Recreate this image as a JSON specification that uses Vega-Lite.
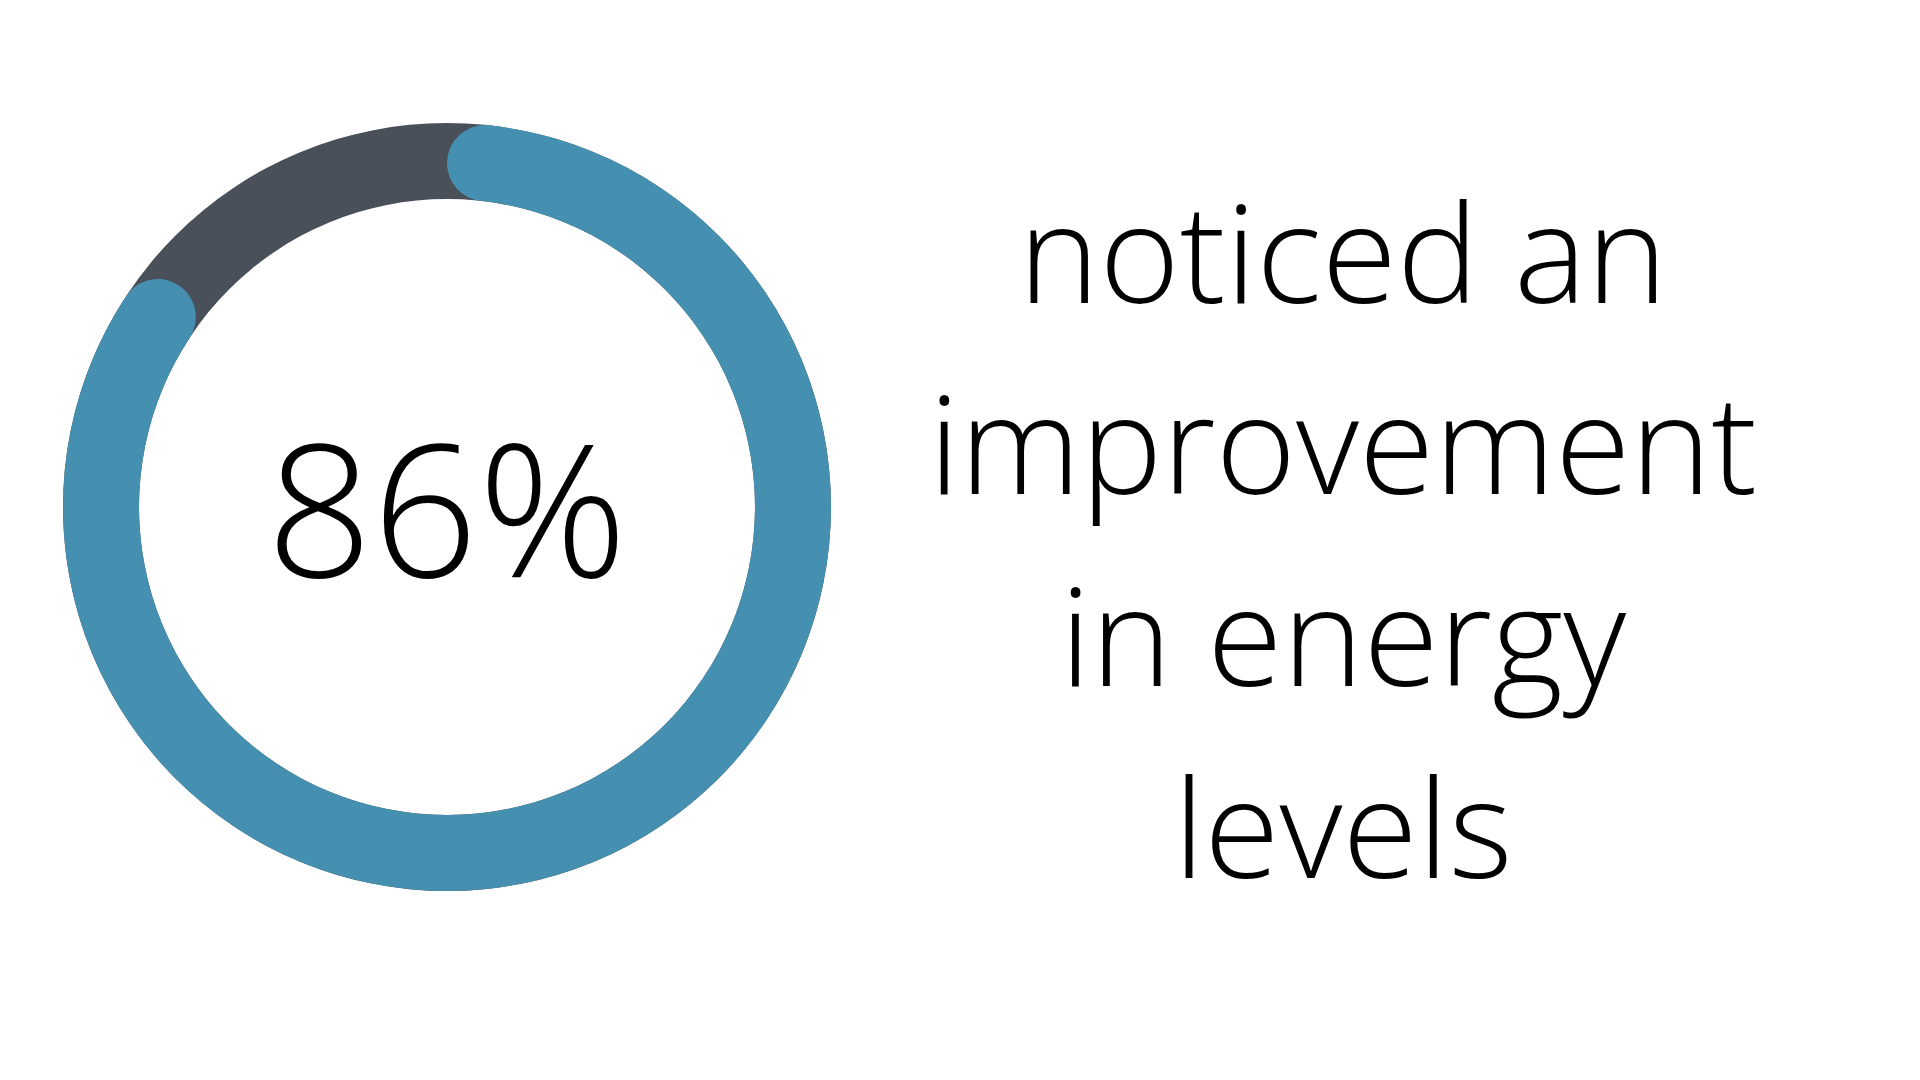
{
  "$schema": "https://vega.github.io/schema/vega-lite/v6.json",
  "background": "white",
  "padding": 0,
  "spacing": 0,
  "config": {"view": {"stroke": null}, "concat": {"spacing": 0}},
  "datasets": {
    "ring": [{"group": "all respondents", "share": 1}],
    "improved": [{"group": "noticed an improvement in energy levels", "share": 0.86}],
    "caption": [
      {"line": 1, "text": "noticed an"},
      {"line": 2, "text": "improvement"},
      {"line": 3, "text": "in energy"},
      {"line": 4, "text": "levels"}
    ]
  },
  "hconcat": [
    {
      "width": 894,
      "height": 1014,
      "layer": [
        {
          "data": {"name": "ring"},
          "mark": {"type": "arc", "radius": 384, "radius2": 308, "color": "#495059"},
          "encoding": {"theta": {"field": "share", "type": "quantitative", "scale": {"domain": [0, 1]}}}
        },
        {
          "data": {"name": "improved"},
          "mark": {"type": "arc", "radius": 384, "radius2": 308, "cornerRadius": 38, "color": "#4590B0"},
          "encoding": {"theta": {"field": "share", "type": "quantitative", "scale": {"domain": [0, 1]}}}
        },
        {
          "data": {"name": "improved"},
          "mark": {"type": "text", "font": "Open Sans", "fontWeight": 300, "fontSize": 185, "color": "#000000", "baseline": "middle", "align": "center", "dy": 14},
          "encoding": {"text": {"field": "share", "type": "quantitative", "format": ".0%"}}
        }
      ]
    },
    {
      "width": 898,
      "height": 1014,
      "data": {"name": "caption"},
      "mark": {"type": "text", "font": "Open Sans", "fontWeight": 300, "fontSize": 137, "color": "#000000", "baseline": "alphabetic", "align": "center"},
      "encoding": {
        "y": {"field": "line", "type": "quantitative", "scale": {"domain": [-0.5785, 4.709], "reverse": true, "nice": false, "zero": false}, "axis": null},
        "text": {"field": "text", "type": "nominal"}
      }
    }
  ]
}
